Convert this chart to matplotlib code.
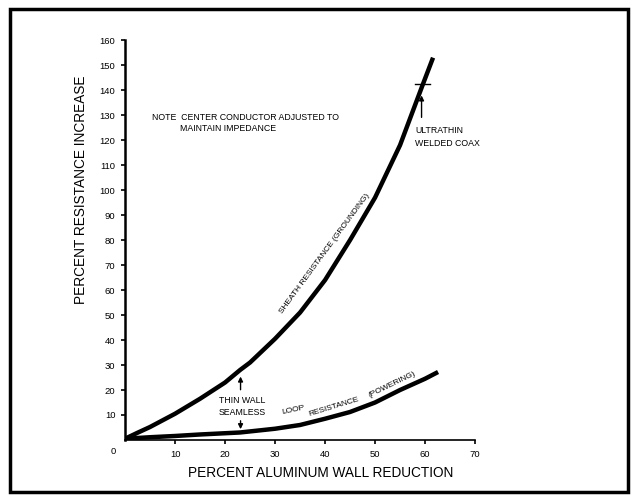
import matplotlib.pyplot as plt
from matplotlib.patches import Rectangle

plt.rcParams['font.family'] = ['Liberation Sans', 'DejaVu Sans']

# sheath resistance (grounding) curve
sheath_x = [0, 2.4, 5, 10, 15, 20, 23, 25, 30, 35, 40, 45, 50, 55, 59.5, 61.6]
sheath_y = [0.5, 2.8, 5.2, 10.5, 16.5, 23, 28, 31, 40.5, 51, 64, 80, 97, 118, 142, 153]

# loop resistance (powering) curve
loop_x = [0, 5, 10, 15, 20, 23, 30, 35, 40, 45, 50, 55, 60, 62.6]
loop_y = [0.5, 1.1, 1.6, 2.2, 2.7, 3.0, 4.5, 6.0, 8.5, 11.2, 15, 20, 24.5, 27.2]

x_ticks = [10, 20, 30, 40, 50, 60, 70]
y_ticks = [10, 20, 30, 40, 50, 60, 70, 80, 90, 100, 110, 120, 130, 140, 150, 160]

fig = plt.figure(figsize=(6.38, 5.01), dpi=100)
ax = fig.add_axes([0.196, 0.1218, 0.5486, 0.798])

ax.plot(sheath_x, sheath_y, color='black', lw=3.2, solid_capstyle='butt',
        solid_joinstyle='round')
ax.plot(loop_x, loop_y, color='black', lw=3.2, solid_capstyle='butt',
        solid_joinstyle='round')

ax.set_xlim(0, 70)
ax.set_ylim(0, 160)
ax.set_xticks(x_ticks)
ax.set_yticks(y_ticks)
ax.tick_params(labelsize=6.8, length=3, width=1.2, pad=4, colors='black')
for s in ['top', 'right']:
    ax.spines[s].set_visible(False)
ax.spines['left'].set_linewidth(1.8)
ax.spines['bottom'].set_linewidth(1.2)
ax.text(-2.4, -2.8, '0', fontsize=6.8, ha='center', va='top')

ax.set_xlabel('PERCENT ALUMINUM WALL REDUCTION', fontsize=9.8)
ax.set_ylabel('PERCENT RESISTANCE INCREASE', fontsize=9.8)
ax.xaxis.set_label_coords(0.56, -0.066)
ax.yaxis.set_label_coords(-0.106, 0.625)

# notes and curve labels
ax.text(5.4, 129, 'NOTE  CENTER CONDUCTOR ADJUSTED TO', fontsize=6.3, va='center')
ax.text(11, 124.5, 'MAINTAIN IMPEDANCE', fontsize=6.3, va='center')

ax.text(40, 74.4, 'SHEATH RESISTANCE (GROUNDING)', fontsize=6, rotation=53.7,
        ha='center', va='center', rotation_mode='anchor')
ax.text(33.6, 11.8, 'LOOP', fontsize=6, rotation=12, ha='center', va='center',
        rotation_mode='anchor')
ax.text(41.8, 13.4, 'RESISTANCE', fontsize=6, rotation=17, ha='center', va='center',
        rotation_mode='anchor')
ax.text(53.4, 22, '(POWERING)', fontsize=6, rotation=26, ha='center', va='center',
        rotation_mode='anchor')

# ultrathin welded coax marker
ax.text(58, 124, 'ULTRATHIN', fontsize=6.3, va='center')
ax.text(58, 118.5, 'WELDED COAX', fontsize=6.3, va='center')
ax.annotate('', xy=(59.3, 139), xytext=(59.3, 128),
            arrowprops=dict(arrowstyle='-|>', color='black', lw=1, mutation_scale=7))
ax.plot([58, 61], [142.4, 142.4], color='black', lw=1)

# thin wall seamless marker
ax.text(23.5, 15.6, 'THIN WALL', fontsize=6.3, ha='center', va='center')
ax.text(23.5, 11, 'SEAMLESS', fontsize=6.3, ha='center', va='center')
ax.annotate('', xy=(23.1, 26.5), xytext=(23.1, 19),
            arrowprops=dict(arrowstyle='-|>', color='black', lw=1, mutation_scale=7))
ax.annotate('', xy=(23.1, 3.2), xytext=(23.1, 8.8),
            arrowprops=dict(arrowstyle='-|>', color='black', lw=1, mutation_scale=7))
ax.plot([22.2, 24], [3.0, 3.0], color='black', lw=1)

# frame round the whole figure
fig.patches.append(Rectangle((10 / 638, 9 / 501), 618 / 638, 483 / 501,
                             transform=fig.transFigure, fill=False,
                             edgecolor='black', lw=2.5))

fig.savefig('out.png', dpi=100)
